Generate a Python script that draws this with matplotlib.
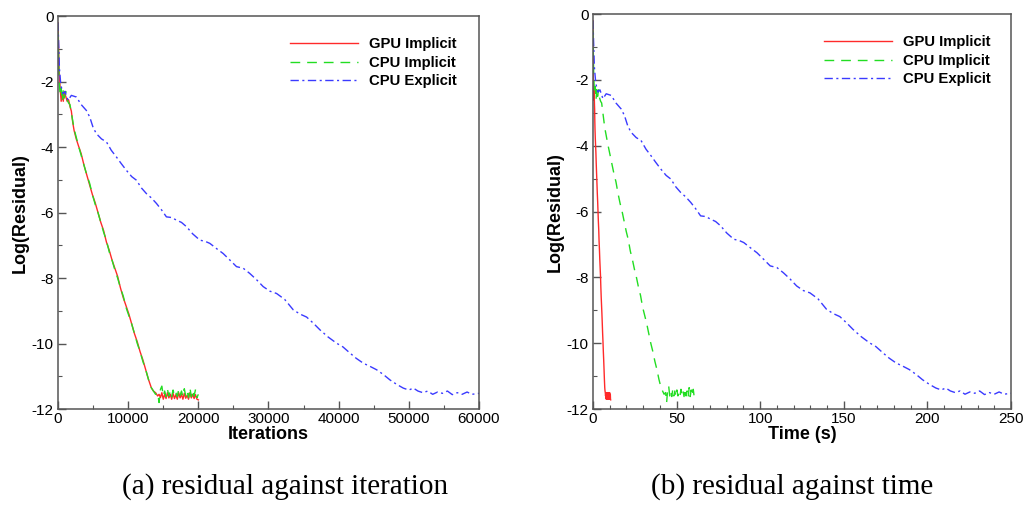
import matplotlib
matplotlib.use("Agg")
import matplotlib.pyplot as plt
from matplotlib.ticker import MultipleLocator

# ---------------- data ----------------
gpu_iter = [0, 150, 300, 450, 600, 750, 900, 1100, 1300, 1500, 1700, 1900,
            2100, 2300, 2600, 2900, 3300, 3700, 4100, 4500, 4900, 5300, 5700,
            6100, 6500, 6900, 7300, 7700, 8100, 8500, 8900, 9300, 9700, 10100,
            10500, 10900, 11300, 11700, 12100, 12500, 12900, 13300, 13600,
            13900, 14200, 14400, 14600, 14800, 15000, 15200, 15400, 15600,
            15800, 16000, 16200, 16400, 16600, 16800, 17000, 17200, 17400,
            17600, 17800, 18000, 18200, 18400, 18600, 18800, 19000, 19200,
            19400, 19600, 19800, 20000]
gpu_time = [0, 0.08, 0.16, 0.24, 0.32, 0.40, 0.48, 0.58, 0.69, 0.80, 0.90, 1.01,
            1.11, 1.22, 1.38, 1.54, 1.75, 1.96, 2.17, 2.39, 2.60, 2.81, 3.02,
            3.23, 3.45, 3.66, 3.87, 4.08, 4.29, 4.51, 4.72, 4.93, 5.14, 5.35,
            5.57, 5.78, 5.99, 6.20, 6.41, 6.63, 6.84, 7.05, 7.21,
            7.37, 7.53, 7.63, 7.74, 7.84, 7.95, 8.06, 8.16, 8.27,
            8.37, 8.48, 8.59, 8.69, 8.80, 8.90, 9.01, 9.12, 9.22,
            9.33, 9.43, 9.54, 9.65, 9.75, 9.86, 9.96, 10.07, 10.18,
            10.28, 10.39, 10.49, 10.60]
gpu_res = [-0.2, -1.6, -2.2, -2.6, -2.35, -2.6, -2.3, -2.45, -2.6, -2.55, -2.75, -2.9,
           -3.25, -3.5, -3.75, -3.95, -4.2, -4.55, -4.85, -5.15, -5.45, -5.7, -6.0,
           -6.3, -6.55, -6.9, -7.15, -7.45, -7.7, -7.95, -8.3, -8.6, -8.85, -9.1,
           -9.4, -9.7, -9.95, -10.25, -10.5, -10.8, -11.1, -11.35, -11.45,
           -11.5, -11.6, -11.55, -11.65, -11.5, -11.7, -11.55, -11.68, -11.5,
           -11.66, -11.55, -11.7, -11.52, -11.68, -11.56, -11.7, -11.5, -11.66,
           -11.55, -11.7, -11.52, -11.67, -11.58, -11.7, -11.5, -11.66, -11.55,
           -11.68, -11.56, -11.7, -11.72]

cpui_iter = gpu_iter
cpui_time = [0, 0.46, 0.92, 1.38, 1.84, 2.30, 2.75, 3.37, 3.98, 4.59, 5.20, 5.81,
             6.43, 7.04, 7.96, 8.87, 10.10, 11.32, 12.55, 13.77, 14.99, 16.22, 17.44,
             18.67, 19.89, 21.11, 22.34, 23.56, 24.79, 26.01, 27.23, 28.46, 29.68, 30.91,
             32.13, 33.35, 34.58, 35.80, 37.03, 38.25, 39.47, 40.70, 41.62,
             42.53, 43.45, 44.06, 44.68, 45.29, 45.90, 46.51, 47.12, 47.74,
             48.35, 48.96, 49.57, 50.18, 50.80, 51.41, 52.02, 52.63, 53.24,
             53.86, 54.47, 55.08, 55.69, 56.30, 56.92, 57.53, 58.14, 58.75,
             59.36, 59.98, 60.59, 61.20]
cpui_res = [-0.5, -1.9, -2.4, -2.2, -2.6, -2.25, -2.5, -2.3, -2.55, -2.65, -2.7, -2.95,
            -3.2, -3.45, -3.7, -3.95, -4.25, -4.55, -4.85, -5.1, -5.45, -5.75, -6.0,
            -6.3, -6.6, -6.85, -7.2, -7.45, -7.75, -8.0, -8.3, -8.55, -8.9, -9.15,
            -9.4, -9.7, -10.0, -10.25, -10.55, -10.8, -11.1, -11.35, -11.45,
            -11.55, -11.5, -11.8, -11.4, -11.3, -11.6, -11.45, -11.62, -11.4,
            -11.6, -11.45, -11.62, -11.42, -11.6, -11.5, -11.62, -11.4, -11.58,
            -11.45, -11.62, -11.38, -11.6, -11.45, -11.65, -11.35, -11.62, -11.42,
            -11.6, -11.4, -11.65, -11.55]

cpue_iter = [0, 200, 400, 710, 1000, 1430, 1900, 2620, 3300, 4040,
             4520, 5000, 5470, 6200, 6900, 7600, 8320, 9000, 9750, 10500,
             11170, 11900, 12600, 13300, 14030, 14700, 15450, 16200, 16880, 17600,
             18310, 19200, 20210, 21000, 21640, 22600, 23540, 24500, 25440, 26400,
             27340, 28300, 29240, 30200, 31150, 32300, 33530, 34500, 35430, 36400,
             37330, 38500, 39710, 40600, 41610, 42500, 43510, 44500, 45410, 46400,
             47310, 48300, 49210, 50000, 50640, 51300, 52000, 52700, 53400, 54100,
             54800, 55500, 56200, 56900, 57600, 58300, 59000, 60000]
cpue_time = [0, 0.83, 1.67, 2.96, 4.17, 5.96, 7.92, 10.92, 13.75, 16.83,
             18.83, 20.83, 22.79, 25.83, 28.75, 31.67, 34.67, 37.5, 40.63, 43.75,
             46.54, 49.58, 52.5, 55.42, 58.46, 61.25, 64.38, 67.5, 70.33, 73.33,
             76.29, 80.0, 84.21, 87.5, 90.17, 94.17, 98.08, 102.08, 106.0, 110.0,
             113.92, 117.92, 121.83, 125.83, 129.79, 134.58, 139.71, 143.75, 147.63, 151.67,
             155.54, 160.42, 165.46, 169.17, 173.38, 177.08, 181.29, 185.42, 189.21, 193.33,
             197.13, 201.25, 205.04, 208.33, 211.0, 213.75, 216.67, 219.58, 222.5, 225.42,
             228.33, 231.25, 234.17, 237.08, 240.0, 242.92, 245.83, 250.0]
cpue_res = [-0.2, -1.6, -2.1, -2.37, -2.3, -2.57, -2.42, -2.47, -2.7, -2.88,
            -3.08, -3.4, -3.59, -3.75, -3.84, -4.1, -4.3, -4.5, -4.71, -4.9,
            -5.01, -5.25, -5.42, -5.55, -5.72, -5.9, -6.13, -6.15, -6.23, -6.3,
            -6.43, -6.65, -6.84, -6.88, -6.94, -7.1, -7.25, -7.45, -7.65, -7.7,
            -7.86, -8.05, -8.26, -8.4, -8.47, -8.65, -8.97, -9.1, -9.19, -9.38,
            -9.58, -9.8, -9.99, -10.1, -10.29, -10.45, -10.6, -10.7, -10.8, -10.95,
            -11.11, -11.25, -11.36, -11.42, -11.36, -11.45, -11.5, -11.45, -11.55, -11.48,
            -11.52, -11.45, -11.56, -11.5, -11.55, -11.48, -11.55, -11.52]

labels = ["GPU Implicit", "CPU Implicit", "CPU Explicit"]
xlabels = ["Iterations", "Time (s)"]
ylabel = "Log(Residual)"
captions = ["(a) residual against iteration", "(b) residual against time"]

# ---------------- styling ----------------
plt.rcParams['font.family'] = ['Liberation Sans', 'DejaVu Sans']
plt.rcParams['axes.unicode_minus'] = False
RED, GREEN, BLUE = '#ff2a2a', '#22dd22', '#3a3aff'
SPINE = '#555555'

fig = plt.figure(figsize=(10.25, 5.05), dpi=100)
ax1 = fig.add_axes([0.0566, 0.190, 0.4107, 0.778])
ax2 = fig.add_axes([0.5785, 0.190, 0.4078, 0.782])

def style(ax, xmax, xmaj, xmin, xlab):
    ax.set_xlim(0, xmax)
    ax.set_ylim(-12, 0)
    ax.xaxis.set_major_locator(MultipleLocator(xmaj))
    ax.xaxis.set_minor_locator(MultipleLocator(xmin))
    ax.yaxis.set_major_locator(MultipleLocator(2))
    ax.yaxis.set_minor_locator(MultipleLocator(1))
    ax.tick_params(which='both', direction='in', top=False, right=False,
                   color=SPINE, labelsize=11, labelcolor='black')
    ax.tick_params(which='major', length=6, width=1.0)
    ax.tick_params(which='minor', length=3, width=0.8)
    ax.tick_params(axis='x', pad=2)
    ax.tick_params(axis='y', pad=3)
    for s in ax.spines.values():
        s.set_color(SPINE)
        s.set_linewidth(1.1)
    ax.set_xlabel(xlab, fontsize=13, fontweight='bold', labelpad=0)
    ax.set_ylabel(ylabel, fontsize=13, fontweight='bold', labelpad=2)

dash = (0, (7, 5))
dashdot = (0, (6, 2.5, 1.5, 2.5))

for ax, xs, xmax, xmaj, xmin, xlab, anchor in [
        (ax1, (gpu_iter, cpui_iter, cpue_iter), 60000, 10000, 5000, xlabels[0], (0.551, 0.946)),
        (ax2, (gpu_time, cpui_time, cpue_time), 250, 50, 10, xlabels[1], (0.552, 0.946))]:
    ax.plot(xs[0], gpu_res, color=RED, lw=1.0, ls='-', label=labels[0])
    ax.plot(xs[1], cpui_res, color=GREEN, lw=1.0, ls=dash, label=labels[1])
    ax.plot(xs[2], cpue_res, color=BLUE, lw=1.0, ls=dashdot, label=labels[2])
    style(ax, xmax, xmaj, xmin, xlab)
    leg = ax.legend(loc='upper left', bbox_to_anchor=anchor, frameon=False,
                    prop={'weight': 'bold', 'size': 10.7}, handlelength=4.6,
                    handletextpad=0.75, labelspacing=0.3, borderpad=0,
                    borderaxespad=0)

fig.text(285 / 1025, 1 - 487 / 505, captions[0], ha='center', va='center',
         fontsize=21, family='Liberation Serif')
fig.text(792 / 1025, 1 - 487 / 505, captions[1], ha='center', va='center',
         fontsize=21, family='Liberation Serif')

fig.savefig('out.png', dpi=100, facecolor='white')
